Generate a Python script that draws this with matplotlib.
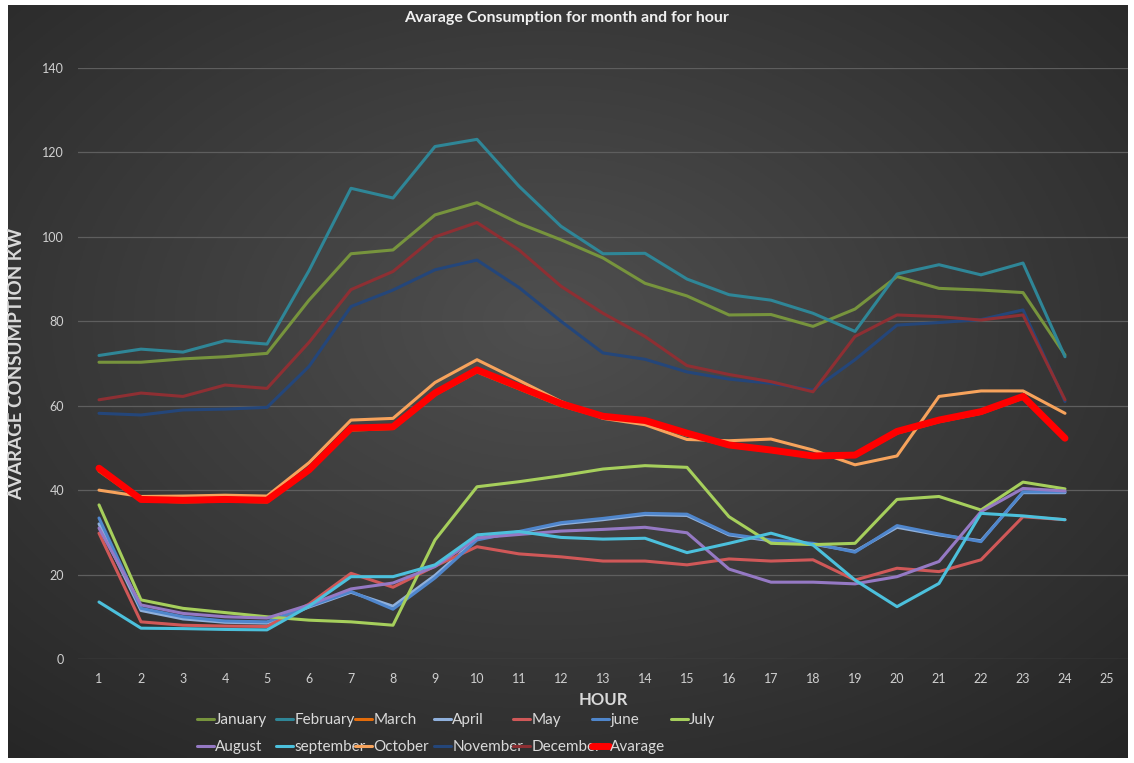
import matplotlib
matplotlib.use('Agg')
import matplotlib.pyplot as plt
import numpy as np

plt.rcParams['font.family'] = ['Lato', 'DejaVu Sans']

# =========================================================================
# Data: average consumption (kW) per hour, one series per month
# =========================================================================

hours = list(range(1, 25))
hour_ticks = list(range(1, 26))

january = [70.3, 70.3, 71.1, 71.6, 72.4, 85, 96, 96.9, 105.2, 108.1, 103.2, 99.3,
           95, 89, 86, 81.5, 81.6, 78.8, 82.9, 90.6, 87.8, 87.4, 86.8, 72]
february = [71.9, 73.4, 72.7, 75.4, 74.6, 92, 111.5, 109.2, 121.4, 123.1, 112, 102.5,
            96, 96.1, 90, 86.3, 85, 81.9, 77.6, 91.2, 93.4, 91, 93.8, 71.6]
march = [44.5, 37.5, 37.2, 37.4, 37.2, 44.5, 54.2, 54.6, 62.6, 68, 64, 60,
         57.2, 56, 53, 50.4, 49.2, 47.8, 48, 53.5, 56.2, 58.2, 61.8, 52]
april = [32, 11.5, 9.5, 8.7, 8.5, 12.3, 15.8, 12.5, 19.8, 28.5, 30, 32,
         33, 34.2, 34, 29.4, 28, 27.2, 25.5, 31.2, 29.4, 28, 39.4, 39.4]
may = [29.8, 8.8, 8, 7.8, 7.7, 13, 20.3, 17, 22, 26.6, 24.9, 24.2,
       23.2, 23.2, 22.3, 23.7, 23.2, 23.5, 18.7, 21.5, 20.7, 23.5, 33.7, 33]
june = [33.4, 12, 10, 9, 8.8, 12.5, 16, 11.8, 19.2, 28.2, 30.2, 32.3,
        33.3, 34.5, 34.3, 29.6, 28.2, 27.4, 25.3, 31.6, 29.6, 27.8, 39.6, 39.6]
july = [36.5, 14, 12, 11, 10, 9.2, 8.8, 8, 28.2, 40.8, 42, 43.4,
        45, 45.8, 45.4, 33.7, 27.4, 27.1, 27.4, 37.8, 38.5, 35.3, 41.9, 40.3]
august = [31, 12.8, 10.8, 10, 9.7, 12.8, 16.6, 18, 21.9, 28.7, 29.5, 30.3,
          30.7, 31.2, 29.9, 21.3, 18.2, 18.2, 17.8, 19.5, 23.1, 34.9, 40.4, 39.8]
september = [13.5, 7.3, 7.2, 7, 6.9, 12.5, 19.5, 19.5, 22.3, 29.4, 30.2, 28.8,
             28.4, 28.6, 25.2, 27.4, 29.8, 27, 18.7, 12.4, 17.9, 34.5, 33.9, 33]
october = [40, 38.5, 38.6, 38.8, 38.6, 46.5, 56.6, 57, 65.5, 70.9, 66, 61,
           57, 55.5, 52, 51.7, 52.1, 49.5, 46, 48.1, 62.2, 63.5, 63.5, 58.2]
november = [58.2, 57.8, 59, 59.2, 59.6, 69.3, 83.5, 87.4, 92.2, 94.5, 88, 80,
            72.5, 71, 68, 66.3, 65.3, 63.7, 70.9, 79.1, 79.7, 80.4, 82.7, 61]
december = [61.4, 63, 62.2, 64.9, 64.1, 75, 87.5, 91.8, 100, 103.4, 96.9, 88.3,
            81.9, 76.4, 69.5, 67.4, 65.7, 63.3, 76.4, 81.5, 81.1, 80.3, 81.5, 61.4]
average = [45.2, 37.8, 37.6, 37.8, 37.6, 44.8, 54.7, 55, 63, 68.5, 64.5, 60.5,
           57.5, 56.5, 53.5, 50.7, 49.5, 48.1, 48.3, 53.9, 56.6, 58.6, 62.2, 52.3]

series_names = ['January', 'February', 'March', 'April', 'May', 'june', 'July',
                'August', 'september', 'October', 'November', 'December', 'Avarage']
series_values = [january, february, march, april, may, june, july,
                 august, september, october, november, december, average]
series_colors = ['#77943d', '#2f8697', '#e46c0a', '#8fb0dc', '#d05858', '#4f86cc', '#a6cf5c',
                 '#9579c4', '#4cc0dc', '#f7a35c', '#24467a', '#8e2f33', '#ff0000']

# =========================================================================
# Figure with dark radial-gradient chart area
# =========================================================================

fig = plt.figure(figsize=(11.34, 7.63), dpi=100, facecolor='white')

bg = fig.add_axes([8 / 1134, 5 / 763, 1120 / 1134, 753 / 763], zorder=-2)
gy, gx = np.mgrid[0:1:300j, 0:1:450j]
r = np.sqrt(((gx - 0.48) / 0.75) ** 2 + ((gy - 0.42) / 0.75) ** 2)
shade = np.clip(0.31 - 0.16 * r, 0.14, 0.31)
bg.imshow(np.dstack([shade, shade, shade]), aspect='auto', extent=(0, 1, 0, 1))
bg.axis('off')

ax = fig.add_axes([78 / 1134, 1 - 659 / 763, 1050 / 1134, 591 / 763])
ax.set_facecolor('none')

handles = []
for name, vals, col in zip(series_names, series_values, series_colors):
    lw = 5 if name == 'Avarage' else 2.2
    line, = ax.plot(hours, vals, color=col, linewidth=lw, label=name,
                    solid_joinstyle='round', solid_capstyle='round')
    handles.append(line)

ax.set_xlim(0.5, 25.5)
ax.set_ylim(0, 140)
ax.set_xticks(hour_ticks)
ax.set_yticks(range(0, 141, 20))
ax.tick_params(colors='#d0d0d0', labelsize=9, length=0, pad=10)
ax.grid(axis='y', color='#5e5e5e', linewidth=0.9)
ax.set_axisbelow(True)
for s in ax.spines.values():
    s.set_visible(False)

ax.set_xlabel('HOUR', color='#d9d9d9', fontsize=12, fontweight='bold', labelpad=5)
ax.set_ylabel('AVARAGE CONSUMPTION KW', color='#d9d9d9', fontsize=13.5,
              fontweight='bold', labelpad=12)

fig.text(0.5, 1 - 18 / 763, 'Avarage Consumption for month and for hour',
         ha='center', va='center', color='#f0f0f0', fontsize=11.5, fontweight='bold')

# legend laid out row-wise in 7 evenly spaced columns, like the original
for c in range(7):
    col_handles = handles[c::7]
    leg = fig.legend(handles=col_handles, labels=[h.get_label() for h in col_handles],
                     loc='upper left', bbox_to_anchor=((197 + 79 * c) / 1134, 1 - 713 / 763),
                     frameon=False, fontsize=11, handlelength=1.1, handletextpad=0.1,
                     labelspacing=0.85, borderaxespad=0, borderpad=0)
    for t in leg.get_texts():
        t.set_color('#d9d9d9')

plt.savefig('out.png', dpi=100, facecolor='white')
